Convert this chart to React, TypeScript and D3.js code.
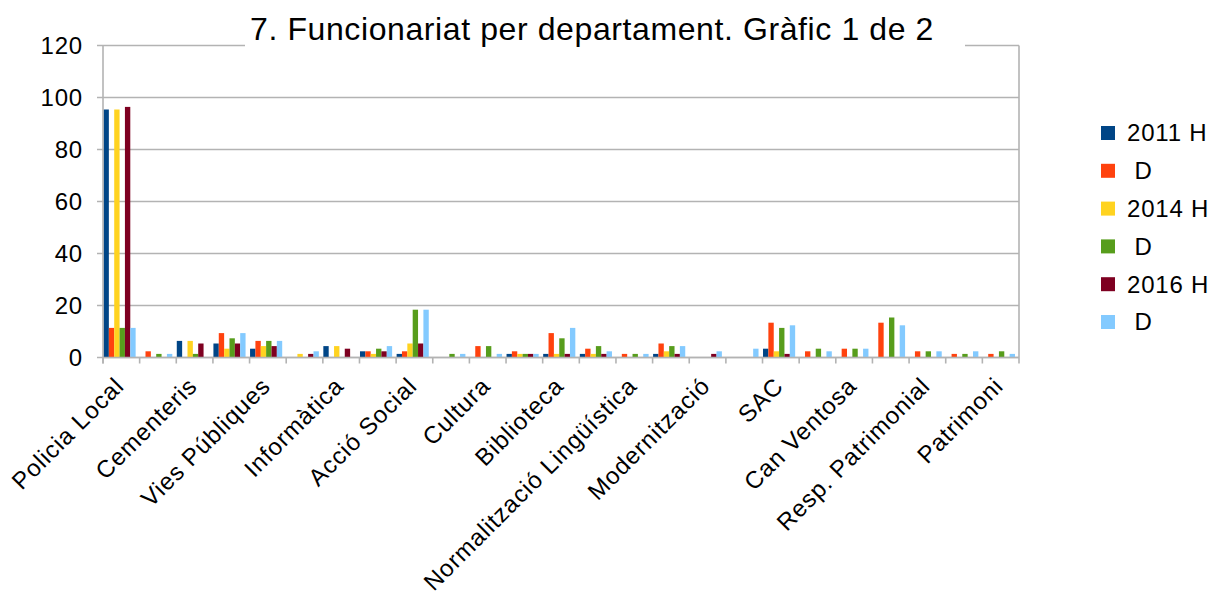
import React, { useEffect, useRef } from 'react';
import * as d3 from 'd3';

// 25 departments, only every second one gets a label on the axis
const categories = [
  'Policia Local', '', 'Cementeris', '', 'Vies Públiques', '', 'Informàtica', '',
  'Acció Social', '', 'Cultura', '', 'Biblioteca', '', 'Normalització Lingüística', '',
  'Modernització', '', 'SAC', '', 'Can Ventosa', '', 'Resp. Patrimonial', '', 'Patrimoni',
];

const seriesNames = ['2011 H', ' D', '2014 H', ' D', '2016 H', ' D'];
const seriesColors = ['#004586', '#ff420e', '#ffd320', '#579d1c', '#7e0021', '#83caff'];

const h2011 = [95, 0, 6, 5, 3, 0, 4, 2, 1, 0, 0, 1, 1, 1, 0, 1, 0, 0, 3, 0, 0, 0, 0, 0, 0];
const d2011 = [11, 2, 0, 9, 6, 0, 0, 2, 2, 0, 4, 2, 9, 3, 1, 5, 0, 0, 13, 2, 3, 13, 2, 1, 1];
const h2014 = [95, 0, 6, 3, 4, 1, 4, 1, 5, 0, 0, 1, 1, 1, 0, 2, 0, 0, 2, 0, 0, 0, 0, 0, 0];
const d2014 = [11, 1, 1, 7, 6, 0, 0, 3, 18, 1, 4, 1, 7, 4, 1, 4, 0, 0, 11, 3, 3, 15, 2, 1, 2];
const h2016 = [96, 0, 5, 5, 4, 1, 3, 2, 5, 0, 0, 1, 1, 1, 0, 1, 1, 0, 1, 0, 0, 0, 0, 0, 0];
const d2016 = [11, 1, 0, 9, 6, 2, 0, 4, 18, 1, 1, 1, 11, 2, 1, 4, 2, 3, 12, 2, 3, 12, 2, 2, 1];

const yTicks = [0, 20, 40, 60, 80, 100, 120];
const title = '7. Funcionariat per departament. Gràfic 1 de 2';

const App = () => {
  const chartRef = useRef(null);

  useEffect(() => {
    document.body.style.margin = '0';
    const svg = d3.select(chartRef.current);
    svg.selectAll('*').remove();

    const width = 1212;
    const height = 596;
    const left = 103, right = 1019, top = 45.5, bottom = 357.5;
    const font = '"Liberation Sans", Arial, sans-serif';
    const grid = '#b3b3b3';

    svg.attr('width', width).attr('height', height).style('display', 'block');

    const values = [h2011, d2011, h2014, d2014, h2016, d2016];
    const idx = categories.map((_, i) => i);

    const x0 = d3.scaleBand().domain(idx).range([left, right]).padding(0);
    const x1 = d3.scaleBand()
      .domain(d3.range(values.length))
      .range([0.5, x0.bandwidth() - 4])
      .padding(0);
    const y = d3.scaleLinear().domain([0, 120]).range([bottom, top]);

    // gridlines
    svg.append('g')
      .selectAll('line')
      .data(yTicks)
      .enter()
      .append('line')
      .attr('x1', left - 6)
      .attr('x2', right)
      .attr('y1', d => y(d))
      .attr('y2', d => y(d))
      .attr('stroke', grid)
      .attr('stroke-width', 1.6);

    // y labels
    svg.append('g')
      .selectAll('text')
      .data(yTicks)
      .enter()
      .append('text')
      .attr('x', 83)
      .attr('y', d => y(d))
      .attr('dy', '0.35em')
      .attr('text-anchor', 'end')
      .attr('font-family', font)
      .attr('font-size', 24)
      .attr('letter-spacing', 0.8)
      .attr('fill', '#000')
      .text(d => d);

    // bars
    const groups = svg.append('g')
      .selectAll('g')
      .data(idx)
      .enter()
      .append('g')
      .attr('transform', d => `translate(${x0(d)},0)`);

    groups.selectAll('rect')
      .data(i => values.map((s, k) => ({ k, v: s[i] })))
      .enter()
      .append('rect')
      .attr('x', d => x1(d.k))
      .attr('width', x1.bandwidth())
      .attr('y', d => y(d.v) - (d.v > 0 ? 1 : 0))
      .attr('height', d => (d.v > 0 ? bottom - y(d.v) + 1 : 0))
      .attr('fill', d => seriesColors[d.k]);

    // frame: y axis, right border, x axis
    svg.append('line').attr('x1', left).attr('x2', left).attr('y1', top).attr('y2', bottom + 6)
      .attr('stroke', grid).attr('stroke-width', 1.6);
    svg.append('line').attr('x1', right).attr('x2', right).attr('y1', top).attr('y2', bottom + 6)
      .attr('stroke', grid).attr('stroke-width', 1.6);
    svg.append('line').attr('x1', left).attr('x2', right).attr('y1', bottom).attr('y2', bottom)
      .attr('stroke', grid).attr('stroke-width', 1.6);

    // x ticks
    svg.append('g')
      .selectAll('line')
      .data(idx)
      .enter()
      .append('line')
      .attr('x1', d => x0(d))
      .attr('x2', d => x0(d))
      .attr('y1', bottom)
      .attr('y2', bottom + 6)
      .attr('stroke', grid)
      .attr('stroke-width', 1.6);

    // x labels (rotated)
    svg.append('g')
      .selectAll('text')
      .data(idx.filter(i => categories[i] !== ''))
      .enter()
      .append('text')
      .attr('transform', d => `translate(${x0(d) + x0.bandwidth() / 2 + 4},${bottom + 30}) rotate(-45)`)
      .attr('text-anchor', 'end')
      .attr('font-family', font)
      .attr('font-size', 24)
      .attr('letter-spacing', 0.9)
      .attr('fill', '#000')
      .text(d => categories[d]);

    // title with white box over the top gridline
    svg.append('rect')
      .attr('x', 245).attr('y', 10).attr('width', 720).attr('height', 42)
      .attr('fill', '#fff');
    svg.append('text')
      .attr('x', 592)
      .attr('y', 40)
      .attr('text-anchor', 'middle')
      .attr('font-family', font)
      .attr('font-size', 32)
      .attr('letter-spacing', 0.6)
      .attr('fill', '#000')
      .text(title);

    // legend
    const legend = svg.append('g')
      .selectAll('g')
      .data(seriesNames)
      .enter()
      .append('g')
      .attr('transform', (d, i) => `translate(1101,${133 + i * 37.8})`);

    legend.append('rect')
      .attr('x', 0).attr('y', -7).attr('width', 14).attr('height', 14)
      .attr('fill', (d, i) => seriesColors[i]);

    legend.append('text')
      .attr('x', 26)
      .attr('y', 0)
      .attr('dy', '0.35em')
      .attr('font-family', font)
      .attr('font-size', 24)
      .attr('letter-spacing', 0.8)
      .attr('fill', '#000')
      .style('white-space', 'pre')
      .text(d => d);
  }, []);

  return <svg ref={chartRef}></svg>;
};

export default App;
